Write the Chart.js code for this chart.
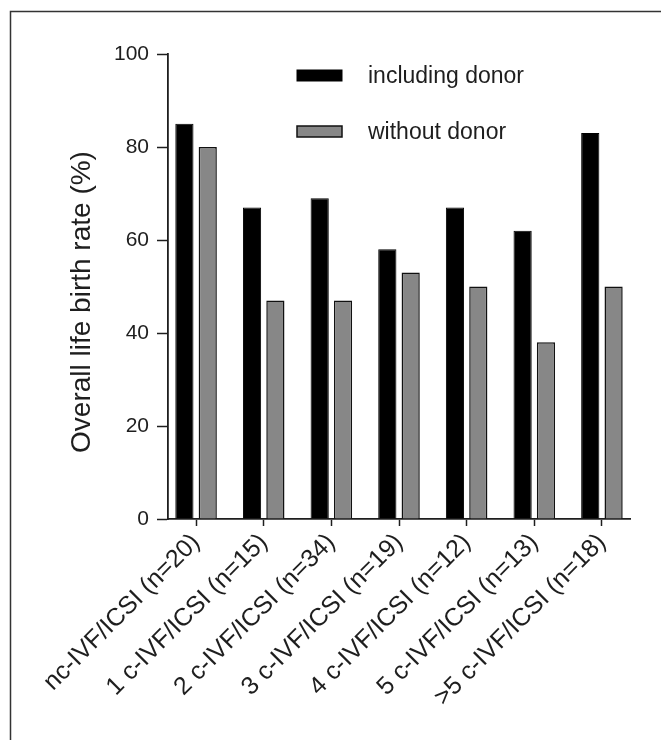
<!DOCTYPE html>
<html>
<head>
<meta charset="utf-8">
<script src="https://cdn.jsdelivr.net/npm/chart.js@4.4.1/dist/chart.umd.min.js"></script>
<style>
  html, body { margin: 0; padding: 0; background: #fff; }
  #wrap { position: relative; width: 661px; height: 740px; }
</style>
</head>
<body>
<div id="wrap"><canvas id="myChart"></canvas></div>
<script>
// Setup Block
const groups = [
  "nc-IVF/ICSI (n=20)",
  "1 c-IVF/ICSI (n=15)",
  "2 c-IVF/ICSI (n=34)",
  "3 c-IVF/ICSI (n=19)",
  "4 c-IVF/ICSI (n=12)",
  "5 c-IVF/ICSI (n=13)",
  ">5 c-IVF/ICSI (n=18)",
];
const includingDonor = [85, 67, 69, 58, 67, 62, 83];
const withoutDonor = [80, 47, 47, 53, 50, 38, 50];
const yTicks = [0, 20, 40, 60, 80, 100];
const yTitle = "Overall life birth rate (%)";

const ink = "#1e1e1e";
const fontFamily = "'Liberation Sans', Arial, sans-serif";

// x is the group index so the axis can start a little inside the first slot
const toPoints = (values) => values.map((v, i) => ({ x: i, y: v }));

const data = {
  datasets: [
    {
      label: "including donor",
      data: toPoints(includingDonor),
      backgroundColor: "#000000",
      borderColor: "#000000",
      borderWidth: 1,
    },
    {
      label: "without donor",
      data: toPoints(withoutDonor),
      backgroundColor: "#878787",
      borderColor: "#111111",
      borderWidth: 1.5,
    },
  ],
};

// white page with the thin frame along the top and left edges
const framePlugin = {
  id: "frame",
  beforeDraw(chart) {
    const ctx = chart.ctx;
    ctx.save();
    ctx.fillStyle = "#fff";
    ctx.fillRect(0, 0, chart.width, chart.height);
    ctx.strokeStyle = "#333";
    ctx.lineWidth = 1.5;
    ctx.beginPath();
    ctx.moveTo(10.5, chart.height);
    ctx.lineTo(10.5, 11.5);
    ctx.lineTo(chart.width, 11.5);
    ctx.stroke();
    ctx.restore();
  },
};

// y title sits a bit below the middle of the axis
const yTitlePlugin = {
  id: "yTitle",
  afterDraw(chart) {
    const ctx = chart.ctx;
    ctx.save();
    ctx.translate(82, 302);
    ctx.rotate(-Math.PI / 2);
    ctx.font = "28px " + fontFamily;
    ctx.fillStyle = ink;
    ctx.textAlign = "center";
    ctx.textBaseline = "middle";
    ctx.fillText(yTitle, 0, 0);
    ctx.restore();
  },
};

// stacked legend in the upper part of the plot
const legendPlugin = {
  id: "stackedLegend",
  afterDraw(chart) {
    const ctx = chart.ctx;
    const box = { x: 297, y: 70, w: 45, h: 11, step: 56, textX: 368 };
    ctx.save();
    ctx.font = "23px " + fontFamily;
    ctx.textBaseline = "middle";
    chart.data.datasets.forEach((ds, i) => {
      const y = box.y + i * box.step;
      ctx.fillStyle = ds.backgroundColor;
      ctx.fillRect(box.x, y, box.w, box.h);
      ctx.strokeStyle = ds.borderColor;
      ctx.lineWidth = ds.borderWidth;
      ctx.strokeRect(box.x, y, box.w, box.h);
      ctx.fillStyle = ink;
      ctx.fillText(ds.label, box.textX, y + box.h / 2 + 1);
    });
    ctx.restore();
  },
};

// Options Block
const options = {
  responsive: true,
  maintainAspectRatio: false,
  animation: false,
  layout: { padding: { top: 54, right: 31, bottom: 0, left: 60 } },
  categoryPercentage: 0.69,
  barPercentage: 0.78,
  plugins: {
    legend: { display: false },
    tooltip: { enabled: false },
  },
  scales: {
    x: {
      type: "linear",
      min: -0.415,
      max: groups.length - 1 + 0.415,
      offset: false,
      afterFit(scale) {
        scale.height = 221;
      },
      afterBuildTicks(scale) {
        scale.ticks = groups.map((_, i) => ({ value: i }));
      },
      grid: {
        offset: false,
        drawOnChartArea: false,
        drawTicks: true,
        tickLength: 7,
        tickWidth: 1.5,
        color: ink,
      },
      border: { display: true, color: ink, width: 1.8 },
      ticks: {
        autoSkip: false,
        minRotation: 45,
        maxRotation: 45,
        padding: 2,
        color: ink,
        font: { family: fontFamily, size: 25 },
        callback: (value) => groups[value],
      },
    },
    y: {
      min: 0,
      max: 100,
      afterFit(scale) {
        scale.width = 108;
      },
      afterBuildTicks(scale) {
        scale.ticks = yTicks.map((v) => ({ value: v }));
      },
      grid: {
        drawOnChartArea: false,
        drawTicks: true,
        tickLength: 11,
        tickWidth: 1.5,
        color: ink,
      },
      border: { display: true, color: ink, width: 1.8 },
      ticks: {
        padding: 8,
        color: ink,
        font: { family: fontFamily, size: 21 },
      },
    },
  },
};

// Config Block
const config = {
  type: "bar",
  data,
  options,
  plugins: [framePlugin, yTitlePlugin, legendPlugin],
};

// Render Block
const myChart = new Chart(document.getElementById("myChart"), config);
</script>
</body>
</html>
